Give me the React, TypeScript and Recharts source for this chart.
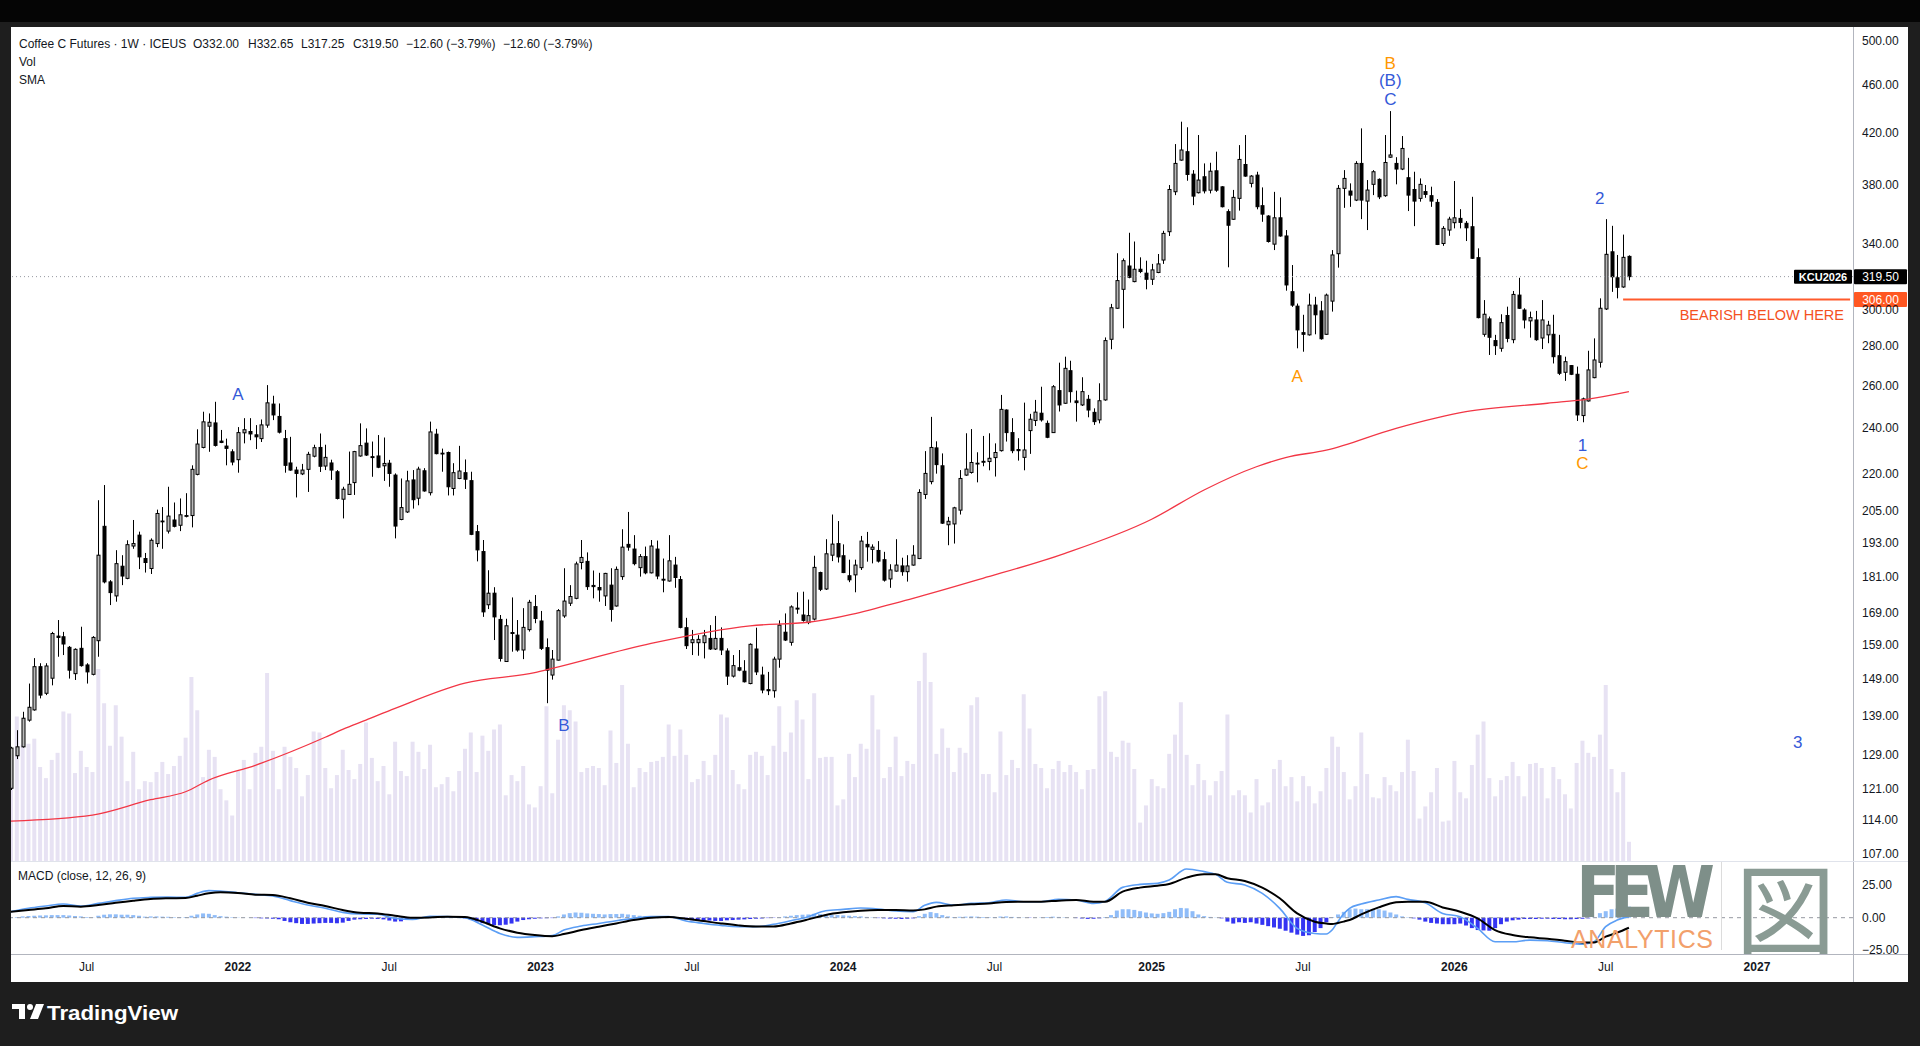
import React from 'react';
import { Bar, Cell, ComposedChart, Line, ReferenceDot, ReferenceLine, XAxis, YAxis } from 'recharts';

// weekly bars, first bar is the week of Mon 2021-04-05
const FIRST_MONDAY = Date.UTC(2021, 3, 5);
const SLOTS = 317;

// [open, high, low, close]
const candles2021 = [
  [121.1, 131.0, 120.7, 130.7], [128.8, 135.2, 128.0, 131.0], [131.0, 140.0, 130.8, 138.3], [137.8, 147.7, 137.4, 141.2],
  [140.5, 155.0, 140.3, 152.5], [152.5, 153.5, 143.6, 144.5], [145.0, 153.5, 144.5, 152.7], [149.2, 162.9, 147.2, 162.4],
  [161.6, 166.6, 155.4, 161.2], [161.4, 162.9, 155.9, 159.2], [158.2, 158.6, 149.1, 151.5], [150.5, 157.9, 148.7, 157.6],
  [157.9, 164.5, 152.5, 152.8], [153.0, 153.5, 147.7, 151.0], [150.3, 161.6, 150.0, 161.2], [160.2, 209.1, 155.4, 188.4],
  [199.0, 215.2, 178.6, 179.1], [179.1, 179.7, 171.4, 175.5], [174.4, 190.2, 172.5, 185.4], [184.5, 188.4, 178.0, 181.1],
  [180.3, 193.8, 180.0, 192.2], [191.7, 201.4, 190.7, 192.6], [195.7, 197.0, 183.5, 187.8], [187.2, 189.2, 182.3, 185.8],
  [183.7, 194.5, 181.8, 193.8], [192.6, 205.4, 191.3, 203.9], [200.8, 206.4, 190.7, 201.0], [197.2, 214.5, 196.3, 202.9],
  [201.4, 208.2, 198.6, 199.0], [199.4, 209.8, 197.2, 203.4], [202.9, 211.9, 202.4, 203.1], [203.1, 223.4, 198.6, 221.7],
  [219.6, 239.2, 219.2, 232.6], [231.1, 247.3, 230.7, 242.6], [240.6, 246.5, 229.2, 242.4], [242.1, 252.0, 231.5, 232.0],
  [233.9, 238.9, 233.0, 233.3], [231.7, 235.0, 223.4, 230.7], [229.2, 230.3, 223.4, 224.8],
];
const candles2022 = [
  [225.8, 240.2, 220.3, 237.7], [237.6, 244.3, 232.9, 239.0], [238.2, 244.3, 234.3, 237.1], [236.7, 241.1, 230.4, 235.8],
  [235.0, 243.7, 233.5, 241.2], [241.1, 260.1, 239.9, 251.5], [250.9, 254.9, 243.4, 245.8], [245.1, 251.2, 237.3, 237.9],
  [235.0, 238.9, 220.3, 223.4], [224.4, 235.8, 221.1, 221.4], [221.4, 222.8, 210.2, 220.0], [219.8, 224.0, 219.3, 221.4],
  [221.7, 229.2, 212.4, 228.1], [227.3, 232.3, 226.8, 231.0], [231.1, 237.3, 220.6, 223.0], [223.1, 232.3, 221.4, 226.8],
  [224.4, 225.8, 217.3, 221.4], [220.7, 221.4, 209.4, 209.8], [209.5, 214.5, 202.0, 213.5], [211.4, 229.3, 211.2, 215.5],
  [216.2, 229.6, 211.2, 229.3], [227.4, 241.9, 227.1, 231.9], [233.0, 239.6, 227.4, 227.8], [227.1, 233.7, 218.6, 226.7],
  [227.4, 236.6, 222.2, 222.6], [223.2, 235.5, 216.9, 224.2], [224.3, 225.7, 214.5, 220.0], [219.3, 220.0, 194.5, 199.1],
  [201.6, 217.9, 201.3, 206.2], [204.5, 221.1, 204.1, 216.9], [217.3, 221.4, 205.8, 209.3], [209.9, 222.8, 207.1, 221.8],
  [221.1, 222.2, 212.5, 212.8], [212.1, 242.7, 211.0, 238.0], [237.0, 239.4, 228.1, 228.4], [228.6, 230.6, 220.7, 228.4],
  [228.9, 229.3, 211.0, 214.5], [213.8, 224.3, 211.0, 220.3], [217.9, 231.8, 217.6, 221.0], [220.3, 225.9, 213.6, 217.6],
  [217.0, 220.7, 195.7, 196.0], [197.0, 199.5, 186.2, 190.3], [189.7, 193.9, 167.6, 169.2], [171.5, 183.1, 170.1, 175.3],
  [175.3, 177.3, 160.4, 167.6], [166.8, 168.2, 154.0, 154.9], [154.0, 167.0, 154.0, 164.8], [162.7, 173.9, 156.9, 162.4],
  [161.9, 166.6, 156.9, 157.4], [157.4, 170.4, 154.7, 164.3], [163.6, 173.1, 163.0, 172.3], [170.9, 174.7, 165.6, 167.1],
];
const candles2023 = [
  [166.3, 169.5, 157.4, 157.9], [158.1, 160.9, 142.3, 151.5], [150.1, 157.4, 148.8, 154.7], [154.4, 170.1, 154.3, 169.6],
  [167.9, 183.8, 167.3, 172.7], [172.0, 178.0, 171.1, 174.2], [173.6, 186.1, 173.3, 185.3], [185.8, 193.9, 183.4, 187.6],
  [186.2, 189.4, 176.4, 177.5], [177.9, 183.0, 173.6, 177.5], [177.2, 182.2, 172.5, 176.4], [174.4, 182.2, 171.1, 182.0],
  [178.0, 183.8, 166.1, 170.0], [171.1, 184.4, 170.9, 183.4], [180.9, 197.9, 179.8, 191.3], [192.3, 204.5, 190.0, 191.3],
  [190.6, 195.7, 184.8, 185.4], [184.0, 188.8, 180.9, 187.9], [187.9, 191.5, 181.7, 182.2], [182.2, 193.9, 182.0, 191.7],
  [190.6, 193.7, 180.0, 181.1], [180.0, 187.2, 175.6, 179.7], [179.4, 195.7, 179.2, 186.4], [184.9, 187.8, 177.1, 180.6],
  [179.9, 181.1, 164.0, 164.3], [164.2, 167.3, 157.7, 158.7], [159.6, 163.5, 155.9, 160.5], [159.6, 161.9, 155.7, 160.6],
  [159.6, 163.5, 154.9, 161.7], [160.9, 165.0, 157.4, 157.7], [157.7, 167.9, 157.4, 160.9], [160.9, 164.3, 155.9, 157.4],
  [157.1, 157.9, 147.3, 149.8], [149.8, 155.9, 149.4, 152.8], [152.2, 157.4, 151.2, 151.5], [151.2, 154.4, 148.0, 148.2],
  [147.7, 159.4, 147.5, 159.1], [157.7, 164.2, 150.1, 151.0], [150.1, 152.5, 145.0, 145.9], [146.0, 151.0, 144.5, 145.7],
  [145.7, 155.4, 143.8, 154.7], [154.7, 166.5, 152.2, 165.0], [162.8, 168.7, 160.1, 160.4], [159.7, 171.3, 158.7, 170.8],
  [170.1, 175.6, 168.6, 170.4], [168.2, 175.8, 166.1, 166.5], [165.8, 173.2, 165.3, 168.0], [166.9, 188.2, 166.5, 184.1],
  [182.3, 182.6, 176.0, 176.6], [176.7, 194.2, 176.4, 188.9], [188.4, 203.5, 186.3, 192.4], [192.6, 201.0, 185.8, 187.8],
];
const candles2024 = [
  [188.2, 192.3, 182.1, 182.3], [181.2, 186.8, 179.0, 179.8], [181.5, 186.8, 175.6, 184.9], [184.0, 195.4, 183.2, 193.5],
  [192.3, 196.9, 186.1, 191.4], [190.5, 192.3, 185.5, 191.3], [190.1, 193.5, 185.8, 186.3], [186.8, 189.6, 179.2, 179.7],
  [180.1, 185.2, 177.1, 183.2], [182.8, 194.2, 182.6, 184.9], [184.6, 187.5, 181.2, 182.6], [182.6, 188.4, 179.2, 184.6],
  [184.9, 192.0, 184.7, 188.4], [187.2, 213.5, 187.0, 212.2], [211.4, 229.5, 209.6, 220.0], [216.6, 244.9, 215.5, 231.1],
  [230.9, 233.8, 219.9, 223.7], [223.2, 228.5, 199.9, 200.2], [199.6, 202.6, 192.0, 200.9], [199.9, 206.5, 192.6, 206.1],
  [205.2, 221.4, 203.5, 217.9], [219.3, 237.4, 219.0, 221.8], [220.4, 239.3, 219.9, 224.6], [224.2, 229.0, 216.3, 224.3],
  [224.7, 236.2, 223.0, 225.1], [225.0, 237.4, 221.3, 226.4], [226.7, 232.9, 218.7, 228.9], [229.7, 255.3, 229.3, 248.4],
  [248.1, 248.4, 233.7, 237.7], [237.7, 244.3, 228.6, 229.7], [230.2, 235.2, 225.4, 229.7], [226.8, 251.6, 221.3, 230.0],
  [238.6, 246.3, 228.3, 243.8], [243.2, 252.9, 240.7, 247.1], [246.6, 259.3, 242.7, 243.5], [241.9, 243.2, 235.2, 235.6],
  [237.7, 260.1, 237.7, 259.3], [257.4, 271.4, 247.4, 250.5], [251.3, 274.5, 251.0, 268.5], [267.3, 272.4, 251.6, 256.9],
  [252.4, 257.4, 242.7, 251.6], [250.5, 264.0, 250.0, 256.9], [253.2, 255.3, 244.7, 248.1], [247.0, 248.9, 241.2, 242.7],
  [243.5, 261.0, 241.9, 252.5], [252.9, 284.7, 252.5, 283.0], [283.7, 303.4, 278.4, 301.2], [300.9, 334.0, 300.6, 317.1],
  [311.9, 330.7, 289.7, 329.3], [326.0, 347.2, 318.5, 319.1], [316.5, 341.5, 316.1, 324.0], [324.0, 331.4, 321.6, 322.6],
  [321.6, 329.3, 311.9, 317.9],
];
const candles2025 = [
  [317.9, 327.3, 314.5, 323.6], [322.0, 333.5, 321.6, 327.3], [329.7, 348.5, 327.3, 346.8], [347.9, 380.1, 345.1, 376.9],
  [375.3, 410.8, 372.9, 396.0], [398.5, 428.6, 398.0, 406.2], [404.9, 424.1, 383.2, 387.8], [388.0, 391.0, 365.9, 372.2],
  [374.6, 417.9, 374.1, 383.7], [386.1, 396.0, 374.1, 375.9], [376.4, 396.5, 374.1, 390.2], [390.5, 404.9, 375.2, 376.4],
  [378.8, 379.3, 364.3, 364.8], [361.4, 363.0, 325.2, 352.2], [356.2, 376.6, 355.8, 371.3], [370.6, 410.0, 362.1, 399.0],
  [395.2, 417.9, 386.1, 386.6], [381.3, 387.3, 378.4, 386.6], [387.3, 389.8, 363.0, 364.8], [365.5, 378.4, 354.5, 359.7],
  [358.4, 359.0, 340.8, 341.5], [339.8, 375.2, 336.0, 357.2], [357.2, 371.3, 344.6, 345.1], [345.1, 349.0, 311.1, 314.5],
  [310.5, 326.6, 301.7, 302.7], [302.1, 303.6, 278.9, 288.8], [287.3, 297.2, 277.1, 286.4], [286.1, 309.4, 285.7, 302.7],
  [302.7, 307.5, 286.4, 297.2], [299.4, 305.0, 283.5, 284.0], [286.4, 309.4, 286.1, 308.5], [305.0, 336.0, 299.0, 332.9],
  [333.7, 380.1, 325.0, 377.7], [377.7, 391.0, 364.0, 384.9], [375.8, 381.3, 364.7, 372.9], [369.4, 397.7, 368.7, 396.0],
  [396.0, 423.2, 356.3, 369.4], [368.7, 383.7, 349.0, 376.5], [380.6, 391.0, 372.9, 389.8], [384.2, 384.9, 370.1, 371.7],
  [372.5, 417.9, 371.7, 396.7], [400.7, 437.3, 400.2, 402.4], [396.0, 400.7, 380.6, 391.8], [391.8, 417.1, 391.0, 407.4],
  [385.4, 400.2, 361.8, 372.9], [376.9, 389.8, 351.6, 368.7], [370.6, 384.9, 368.3, 380.6], [375.4, 380.1, 371.0, 373.4],
  [372.5, 378.9, 364.7, 368.7], [367.8, 370.1, 339.2, 339.6], [340.2, 351.6, 338.7, 350.1], [349.0, 357.9, 345.2, 356.3],
];
const candles2026 = [
  [353.9, 383.0, 350.1, 357.2], [356.8, 363.1, 350.1, 354.1], [353.5, 355.0, 341.8, 350.5], [351.2, 371.7, 330.4, 330.8],
  [331.2, 337.1, 295.2, 295.6], [286.4, 305.6, 285.1, 297.5], [294.9, 296.2, 275.4, 284.8], [283.0, 286.1, 275.4, 280.3],
  [278.9, 297.5, 277.1, 292.8], [296.8, 301.8, 282.1, 284.2], [283.5, 310.9, 281.6, 308.9], [308.5, 318.8, 300.5, 300.9],
  [299.9, 300.9, 289.6, 294.3], [293.8, 299.0, 284.6, 295.6], [294.3, 299.4, 282.9, 283.5], [284.4, 305.6, 278.5, 294.3],
  [286.1, 293.8, 281.6, 291.4], [286.4, 297.2, 271.0, 274.5], [275.0, 286.1, 265.1, 266.0], [266.5, 274.5, 262.2, 271.9],
  [269.9, 270.2, 265.1, 265.5], [265.5, 269.4, 243.0, 245.8], [245.5, 254.0, 242.4, 253.4], [252.4, 277.6, 252.1, 267.7],
  [263.8, 284.2, 263.5, 272.8], [271.6, 306.6, 268.9, 300.9], [300.5, 356.3, 299.9, 333.3], [334.9, 351.8, 310.4, 319.4],
  [318.8, 332.9, 306.6, 313.1], [313.3, 346.0, 312.8, 331.4], [332.0, 332.65, 317.25, 319.5],
];

// weekly volume, thousands of lots
const volume2021 = [98, 143, 115, 116, 121, 93, 82, 100, 107, 148, 146, 87, 109, 93, 88, 190, 156, 114, 154, 123, 79, 108, 71, 79, 78, 88, 98, 86, 94, 104, 122, 182, 149, 83, 110, 103, 71, 60, 45];
const volume2022 = [89, 100, 71, 107, 113, 186, 109, 71, 113, 103, 92, 64, 85, 128, 127, 92, 72, 85, 110, 90, 81, 96, 137, 102, 79, 94, 66, 118, 89, 84, 118, 108, 91, 115, 73, 76, 83, 69, 89, 111, 127, 88, 124, 109, 130, 135, 65, 85, 79, 94, 56, 53];
const volume2023 = [74, 153, 67, 120, 154, 149, 138, 88, 92, 94, 92, 75, 129, 97, 174, 116, 73, 92, 88, 98, 99, 103, 135, 104, 130, 105, 78, 81, 99, 85, 105, 145, 142, 90, 76, 71, 105, 108, 104, 85, 114, 153, 108, 127, 159, 140, 81, 166, 102, 103, 103, 55];
const volume2024 = [61, 106, 83, 116, 111, 164, 130, 82, 93, 123, 84, 99, 96, 178, 206, 177, 106, 131, 112, 88, 112, 107, 154, 162, 86, 86, 68, 128, 85, 100, 92, 165, 131, 96, 92, 72, 91, 99, 88, 95, 88, 71, 90, 91, 163, 168, 108, 103, 119, 117, 91, 38, 55];
const volume2025 = [81, 74, 72, 106, 125, 157, 105, 75, 96, 80, 65, 79, 89, 145, 65, 70, 65, 48, 81, 55, 58, 91, 100, 74, 83, 59, 84, 74, 57, 69, 92, 123, 113, 88, 61, 74, 127, 86, 63, 62, 83, 75, 69, 88, 120, 89, 42, 54, 68, 92, 39, 40];
const volume2026 = [99, 68, 62, 95, 125, 138, 82, 64, 80, 84, 98, 84, 64, 96, 97, 92, 62, 93, 81, 66, 52, 97, 119, 107, 103, 125, 174, 91, 68, 88, 19];

// MACD histogram per week
const hist2021 = [0.3, 0.5, 1.0, 1.3, 1.5, 1.7, 1.8, 2.0, 2.0, 2.0, 1.7, 1.3, 1.0, 0.5, 0.2, 1.5, 2.3, 2.6, 2.6, 2.3, 2.3, 2.0, 1.5, 0.8, 1.0, 1.0, 0.8, 0.7, 0.4, 0.3, 0.5, 1.5, 2.5, 3.3, 3.0, 2.0, 1.2, 0.8, 0.4];
const hist2022 = [0.2, 0.1, 0.1, -0.3, -0.5, -0.6, -0.8, -1.2, -2.5, -3.5, -4.2, -4.8, -4.8, -4.5, -4.2, -4.0, -4.0, -4.3, -3.8, -2.5, -1.5, -1.2, -1.0, -0.8, -1.0, -1.3, -2.2, -3.0, -2.8, -1.5, -0.5, 0.2, 0.5, 0.4, 0.3, 0.2, 0.1, 0.1, -0.2, -0.5, -1.8, -3.0, -4.2, -5.0, -5.6, -5.8, -5.4, -4.5, -3.0, -1.8, -1.2, -0.8];
const hist2023 = [-0.5, -0.4, -0.3, 1.0, 2.5, 3.5, 4.0, 3.8, 3.3, 3.0, 2.8, 2.5, 2.8, 2.8, 3.0, 2.5, 2.0, 1.5, 1.0, 0.6, 0.3, 0.2, 0.0, -0.3, -1.0, -1.5, -2.0, -2.0, -2.2, -2.2, -2.5, -2.5, -2.0, -1.8, -1.5, -1.3, -1.0, -0.8, -0.6, -0.3, -0.2, 0.4, 1.0, 1.5, 2.0, 2.3, 2.5, 3.0, 2.8, 2.5, 2.3, 2.0];
const hist2024 = [1.8, 1.5, 1.2, 1.0, 0.6, 0.3, -0.3, -0.5, -0.7, -0.8, -1.0, -0.8, -0.5, 1.2, 3.0, 4.3, 3.5, 2.0, 1.0, 0.5, 0.7, 0.8, 1.0, 0.8, 0.5, 0.4, 0.5, 0.9, 1.0, 0.6, 0.3, 0.2, -0.2, 0.1, 0.3, 0.5, 0.8, 0.6, 0.3, 0.0, -0.3, -0.6, -0.9, -0.8, -0.5, 0.5, 2.0, 5.5, 6.5, 6.5, 6.0, 5.0, 4.0];
const hist2025 = [3.3, 3.0, 3.5, 4.5, 6.5, 7.5, 7.2, 5.0, 2.5, 1.2, 0.6, 0.2, -0.5, -3.0, -4.5, -3.5, -4.0, -3.5, -4.5, -5.5, -6.5, -7.5, -8.5, -10.0, -11.5, -13.0, -14.0, -13.5, -11.0, -8.0, -3.5, 0.5, 2.5, 4.5, 6.5, 7.0, 6.5, 6.5, 6.8, 6.5, 5.5, 4.0, 2.5, 1.0, 0.3, -0.5, -1.5, -3.0, -4.0, -4.5, -5.0, -5.0];
const hist2026 = [-5.0, -4.5, -6.0, -8.0, -9.5, -9.8, -10.0, -8.0, -5.0, -3.0, -2.0, -1.5, -1.0, -1.0, -1.0, -0.8, -0.8, -1.0, -1.0, -1.2, -1.2, -1.0, -0.8, -0.5, 0.3, 3.5, 5.0, 6.5, 7.0, 8.0, 8.5];

// [week, value] read along the moving average
const smaKnots = [
  [0, 113.8], [14, 115.1], [24, 118.5], [30, 120.3], [34, 123.0], [42, 126.5], [54, 133.4], [57, 135.4], [61, 137.8],
  [66, 140.9], [78, 147.8], [90, 150.8], [93, 152.0], [110, 159.4], [127, 164.8], [137, 165.9], [155, 173.6], [167, 180.3],
  [181, 189.0], [196, 201.7], [205, 213.2], [214, 222.8], [219, 226.7], [226, 229.9], [238, 239.6], [250, 247.3],
  [264, 251.3], [271, 253.3], [278, 256.9],
];

// [week, macd, signal]
const macdKnots = [
  [0, 4.6, 4.6], [3, 7.2, 5.9], [6, 9.0, 7.2], [9, 10.5, 9.0], [12, 9.0, 8.5], [15, 11.0, 9.7], [18, 13.1, 11.5],
  [21, 14.9, 13.1], [24, 15.6, 14.4], [27, 15.9, 14.9], [30, 15.6, 15.1], [32, 18.7, 16.9], [34, 20.8, 18.7],
  [36, 20.5, 19.5], [39, 19.2, 19.0], [42, 17.9, 17.7], [45, 16.7, 17.4], [48, 13.1, 14.9], [51, 9.7, 11.5],
  [54, 7.2, 9.0], [57, 4.1, 5.9], [60, 2.8, 3.8], [63, 2.6, 3.3], [66, -0.5, 1.5], [69, -1.3, 0.0], [72, 1.0, 0.2],
  [75, 0.8, 0.8], [78, 0.0, 0.5], [81, -5.6, -3.1], [84, -12.1, -8.2], [87, -15.1, -11.5], [90, -14.6, -13.3],
  [93, -13.8, -14.2], [95, -9.5, -12.6], [98, -6.4, -9.5], [101, -4.4, -6.9], [104, -2.3, -4.4], [107, -0.5, -1.8],
  [110, 0.8, 0.0], [113, 0.8, 0.5], [116, -2.6, -0.8], [119, -4.4, -2.6], [122, -5.9, -4.4], [125, -6.9, -5.9],
  [128, -6.9, -6.7], [131, -5.1, -6.7], [134, -2.3, -4.4], [137, 0.8, -1.3], [140, 5.4, 2.1], [143, 6.4, 4.1],
  [146, 7.4, 5.4], [149, 6.7, 5.9], [152, 5.1, 5.9], [155, 4.6, 5.6], [157, 9.5, 6.4], [159, 11.8, 8.5],
  [162, 9.7, 9.5], [165, 11.0, 10.3], [168, 11.5, 11.0], [171, 13.6, 12.1], [174, 12.3, 12.3], [177, 12.3, 12.3],
  [180, 14.1, 13.1], [183, 13.6, 13.6], [186, 11.0, 12.3], [188, 12.5, 12.3], [191, 23.3, 20.0], [194, 25.6, 23.1],
  [197, 26.4, 24.6], [199, 29.0, 25.9], [202, 37.4, 30.8], [205, 35.4, 33.3], [207, 33.3, 33.3], [209, 27.2, 30.3],
  [212, 25.1, 28.2], [215, 18.7, 23.1], [218, 7.2, 14.9], [221, -8.2, 3.3], [224, -12.1, -3.1], [226, -12.5, -4.5],
  [227, -9.5, -4.9], [228, -3.0, -4.0], [229, 3.0, -3.0], [230, 7.2, -1.8], [232, 10.5, 2.5], [235, 13.6, 7.9],
  [238, 16.2, 11.8], [240, 14.1, 12.3], [243, 11.5, 12.3], [246, 3.3, 7.9], [249, 0.8, 4.6], [252, -8.2, -0.5],
  [255, -18.5, -9.5], [258, -18.5, -13.3], [261, -17.2, -15.1], [264, -17.7, -16.2], [267, -19.2, -17.7],
  [270, -20.3, -19.0], [272, -18.5, -19.0], [274, -6.9, -14.6], [276, -1.8, -11.5], [278, 0.8, -7.7],
];

const priceTicks = [107, 114, 121, 129, 139, 149, 159, 169, 181, 193, 205, 220, 240, 260, 280, 300, 340, 380, 420, 460, 500];
const macdTicks = [-25, 0, 25];

const lastClose = 319.5;
const bearishLevel = 306;
const bearishFromWeek = 277;

// Elliott wave marks: week index, price level, degree
const waveLabels = [
  { text: 'A', week: 39, price: 256, degree: 'minor' },
  { text: 'B', week: 95, price: 136.5, degree: 'minor' },
  { text: 'B', week: 237, price: 479.5, degree: 'major' },
  { text: '(B)', week: 237, price: 464, degree: 'minor' },
  { text: 'C', week: 237, price: 447.5, degree: 'minor' },
  { text: 'A', week: 221, price: 264.6, degree: 'major' },
  { text: '2', week: 273, price: 370.6, degree: 'minor' },
  { text: '1', week: 270, price: 232.4, degree: 'minor' },
  { text: 'C', week: 270, price: 224.4, degree: 'major' },
  { text: '3', week: 307, price: 132.2, degree: 'minor' },
];

const candles = [...candles2021, ...candles2022, ...candles2023, ...candles2024, ...candles2025, ...candles2026];
const volumes = [...volume2021, ...volume2022, ...volume2023, ...volume2024, ...volume2025, ...volume2026];
const hist = [...hist2021, ...hist2022, ...hist2023, ...hist2024, ...hist2025, ...hist2026];
const smaAt = new Map(smaKnots.map(([w, v]) => [w, v]));
const macdAt = new Map(macdKnots.map(([w, m, s]) => [w, [m, s]]));

const rows = Array.from({ length: SLOTS }, (_, i) => {
  const c = candles[i];
  const m = macdAt.get(i);
  return {
    i,
    ohlc: c,
    range: c ? [c[2], c[1]] : undefined,
    vol: volumes[i],
    sma: smaAt.get(i),
    hist: hist[i],
    macd: m ? m[0] : undefined,
    signal: m ? m[1] : undefined,
  };
});

const weekDate = (i) => new Date(FIRST_MONDAY + i * 7 * 86400000);
const timeTicks = rows
  .map((r) => r.i)
  .filter((i) => {
    const d = weekDate(i);
    return d.getUTCDate() <= 7 && (d.getUTCMonth() === 0 || d.getUTCMonth() === 6);
  });
const tickLabel = (i) => {
  const d = weekDate(i);
  return d.getUTCMonth() === 0 ? String(d.getUTCFullYear()) : 'Jul';
};

const UP_FILL = '#b9b9b9';
const BLUE = '#3559d8';
const ORANGE = '#ff9800';
const TEXT = '#131722';
const FONT = '"Liberation Sans", Arial, sans-serif';

const Candle = (props) => {
  const { x, y, width, height, payload } = props;
  if (!payload || !payload.ohlc || !Number.isFinite(y) || !Number.isFinite(height)) return <g />;
  const [o, h, l, c] = payload.ohlc;
  const top = Math.min(y, y + height);
  const span = Math.abs(height);
  const lh = Math.log(h);
  const ll = Math.log(l);
  const toY = (v) => (lh > ll ? top + (span * (lh - Math.log(v))) / (lh - ll) : top);
  const cx = Math.round(x + width / 2) + 0.5;
  const y1 = toY(Math.max(o, c));
  const y2 = toY(Math.min(o, c));
  return (
    <g>
      <line x1={cx} x2={cx} y1={top} y2={top + span} stroke="#000" strokeWidth={1} />
      <rect x={cx - 1.5} y={y1} width={3} height={Math.max(y2 - y1, 0.8)} fill={c >= o ? UP_FILL : '#000'} stroke="#000" strokeWidth={1} />
    </g>
  );
};

const PriceTag = (props) => {
  const { viewBox, value, bg, tag } = props;
  if (!viewBox) return null;
  const right = viewBox.x + viewBox.width;
  const y = viewBox.y;
  return (
    <g>
      {tag && (
        <g>
          <rect x={right - 59} y={y - 7} width={58} height={14} rx={1} fill="#000" />
          <text x={right - 30} y={y} dy="0.36em" textAnchor="middle" fill="#fff" fontSize={11} fontWeight={700}>{tag}</text>
        </g>
      )}
      <rect x={right + 1} y={y - 7.5} width={53} height={15} rx={1} fill={bg} />
      <text x={right + 27.5} y={y} dy="0.36em" textAnchor="middle" fill="#fff" fontSize={12}>{value}</text>
    </g>
  );
};

const BearishNote = (props) => {
  const { viewBox } = props;
  if (!viewBox) return null;
  const right = viewBox.x + viewBox.width;
  return (
    <g>
      <text x={right - 9} y={viewBox.y + 15} dy="0.36em" textAnchor="end" fill="#f4511e" fontSize={14.5}>BEARISH BELOW HERE</text>
      <rect x={right + 1} y={viewBox.y - 7.5} width={53} height={15} rx={1} fill="#ff5722" />
      <text x={right + 27.5} y={viewBox.y} dy="0.36em" textAnchor="middle" fill="#fff" fontSize={12}>{bearishLevel.toFixed(2)}</text>
    </g>
  );
};

const TimeTick = (props) => {
  const { x, y, payload } = props;
  const label = tickLabel(payload.value);
  const isYear = label !== 'Jul';
  return (
    <text x={x} y={y} dy={17} textAnchor="middle" fontSize={12} fontWeight={isYear ? 700 : 400} fill={TEXT}>
      {label}
    </text>
  );
};

const macdFmt = (v) => (v < 0 ? '\u2212' + Math.abs(v).toFixed(2) : v.toFixed(2));

export default function App() {
  const chartW = 1900;
  return (
    <div style={{ position: 'absolute', left: 0, top: 0, width: 1920, height: 1046, background: '#1e1e1e', overflow: 'hidden', fontFamily: FONT }}>
      <div style={{ position: 'absolute', left: 0, top: 0, width: 1920, height: 22, background: '#050505' }} />

      <div style={{ position: 'absolute', left: 11, top: 27, width: 1897, height: 955, background: '#fff', overflow: 'hidden' }}>
        {/* volume layer */}
        <div style={{ position: 'absolute', left: -3, top: 0 }}>
          <ComposedChart width={chartW} height={834} data={rows} margin={{ top: 0, right: 55, bottom: 0, left: 0 }}>
            <XAxis dataKey="i" type="category" hide />
            <YAxis hide domain={[0, 825]} />
            <Bar dataKey="vol" fill="#e7e2f3" barSize={4} isAnimationActive={false} />
          </ComposedChart>
        </div>

        {/* price layer */}
        <div style={{ position: 'absolute', left: -3, top: 0 }}>
          <ComposedChart width={chartW} height={834} data={rows} margin={{ top: 0, right: 0, bottom: 0, left: 0 }}>
            <XAxis dataKey="i" type="category" hide />
            <YAxis
              orientation="right"
              scale="log"
              domain={[105.5, 512.9]}
              ticks={priceTicks}
              interval={0}
              width={55}
              axisLine={false}
              tickLine={false}
              tickSize={0}
              tickMargin={9}
              tickFormatter={(v) => v.toFixed(2)}
              tick={{ fontSize: 12, fill: TEXT }}
            />
            <Line dataKey="sma" type="monotone" stroke="#f23645" strokeWidth={1.3} dot={false} connectNulls isAnimationActive={false} />
            <ReferenceLine y={lastClose} stroke="#9598a1" strokeDasharray="1 3" label={<PriceTag value={lastClose.toFixed(2)} bg="#000" tag="KCU2026" />} />
            <Bar dataKey="range" shape={<Candle />} barCategoryGap="10%" isAnimationActive={false} />
            <ReferenceLine y={bearishLevel} stroke="none" label={<BearishNote />} />
            <ReferenceLine
              segment={[{ x: bearishFromWeek, y: bearishLevel }, { x: SLOTS - 1, y: bearishLevel }]}
              stroke="#ff5a2c"
              strokeWidth={2}
            />
            {waveLabels.map((w, k) => (
              <ReferenceDot
                key={k}
                x={w.week}
                y={w.price}
                r={1}
                fill="none"
                stroke="none"
                label={{ value: w.text, position: 'center', fill: w.degree === 'major' ? ORANGE : BLUE, fontSize: 17 }}
              />
            ))}
          </ComposedChart>
        </div>

        {/* MACD pane */}
        <div style={{ position: 'absolute', left: -3, top: 835 }}>
          <ComposedChart width={chartW} height={120} data={rows} margin={{ top: 0, right: 0, bottom: 0, left: 0 }}>
            <XAxis
              dataKey="i"
              type="category"
              ticks={timeTicks}
              interval={0}
              height={28}
              axisLine={false}
              tickLine={false}
              tickSize={0}
              tickMargin={0}
              tick={<TimeTick />}
            />
            <YAxis
              orientation="right"
              domain={[-27.9, 42.8]}
              ticks={macdTicks}
              interval={0}
              width={55}
              axisLine={false}
              tickLine={false}
              tickSize={0}
              tickMargin={9}
              tickFormatter={macdFmt}
              tick={{ fontSize: 12, fill: TEXT }}
            />
            <ReferenceLine y={0} stroke="#9598a1" strokeDasharray="4 4" />
            <Bar dataKey="hist" barSize={4} isAnimationActive={false}>
              {rows.map((r) => (
                <Cell key={r.i} fill={r.hist === undefined ? 'none' : r.hist >= 0 ? '#8fbcf8' : '#3434f2'} />
              ))}
            </Bar>
            <Line dataKey="macd" type="monotone" stroke="#5b9ef5" strokeWidth={1.6} dot={false} connectNulls isAnimationActive={false} />
            <Line dataKey="signal" type="monotone" stroke="#000" strokeWidth={2} dot={false} connectNulls isAnimationActive={false} />
          </ComposedChart>
        </div>

        {/* frame lines */}
        <div style={{ position: 'absolute', left: 1842, top: 0, width: 1, height: 955, background: '#b2b5be' }} />
        <div style={{ position: 'absolute', left: 0, top: 834, width: 1897, height: 1, background: '#e0e3eb' }} />
        <div style={{ position: 'absolute', left: 0, top: 927, width: 1897, height: 1, background: '#b2b5be' }} />

        {/* legend */}
        <div style={{ position: 'absolute', left: 0, top: 0, fontSize: 12, color: TEXT, lineHeight: '14px', whiteSpace: 'nowrap' }}>
          <span style={{ position: 'absolute', left: 8, top: 10 }}>Coffee C Futures · 1W · ICEUS</span>
          <span style={{ position: 'absolute', left: 182, top: 10 }}>O332.00</span>
          <span style={{ position: 'absolute', left: 237, top: 10 }}>H332.65</span>
          <span style={{ position: 'absolute', left: 290, top: 10 }}>L317.25</span>
          <span style={{ position: 'absolute', left: 342, top: 10 }}>C319.50</span>
          <span style={{ position: 'absolute', left: 395, top: 10 }}>−12.60 (−3.79%)</span>
          <span style={{ position: 'absolute', left: 492, top: 10 }}>−12.60 (−3.79%)</span>
          <span style={{ position: 'absolute', left: 8, top: 28 }}>Vol</span>
          <span style={{ position: 'absolute', left: 8, top: 46 }}>SMA</span>
          <span style={{ position: 'absolute', left: 7, top: 842 }}>MACD (close, 12, 26, 9)</span>
        </div>

        {/* watermark */}
        <svg width={1897} height={955} style={{ position: 'absolute', left: 0, top: 0, pointerEvents: 'none' }}>
          <defs>
            <clipPath id="macdPane">
              <rect x={0} y={835} width={1842} height={92} />
            </clipPath>
          </defs>
          <g clipPath="url(#macdPane)">
            <text x={1565} y={890} fontSize={72} fontWeight={700} fill="#7e8f89" textLength={139} lengthAdjust="spacing" fontFamily='"Liberation Sans Narrow", "DejaVu Sans Condensed", sans-serif'>FEW</text>
            <text x={1560} y={921} fontSize={25} fill="#f2a06b" textLength={142} lengthAdjust="spacing">ANALYTICS</text>
            <line x1={1710.5} x2={1710.5} y1={835} y2={923} stroke="#dcdcdc" strokeWidth={1} />
            <text x={1774.5} y={922} fontSize={101} textAnchor="middle" fill="#8a9b94" fontFamily='"Noto Sans CJK JP", sans-serif'>図</text>
          </g>
        </svg>
      </div>

      {/* TradingView mark */}
      <svg width={200} height={30} style={{ position: 'absolute', left: 12, top: 1000 }}>
        <path d="M0 4h13v15H7V9H0z" fill="#fff" />
        <circle cx={18} cy={7} r={3} fill="#fff" />
        <path d="M24 4h8l-6 15h-8z" fill="#fff" />
        <text x={35} y={20} fontSize={21} fontWeight={700} fill="#fff" textLength={131} lengthAdjust="spacingAndGlyphs">TradingView</text>
      </svg>
    </div>
  );
}
